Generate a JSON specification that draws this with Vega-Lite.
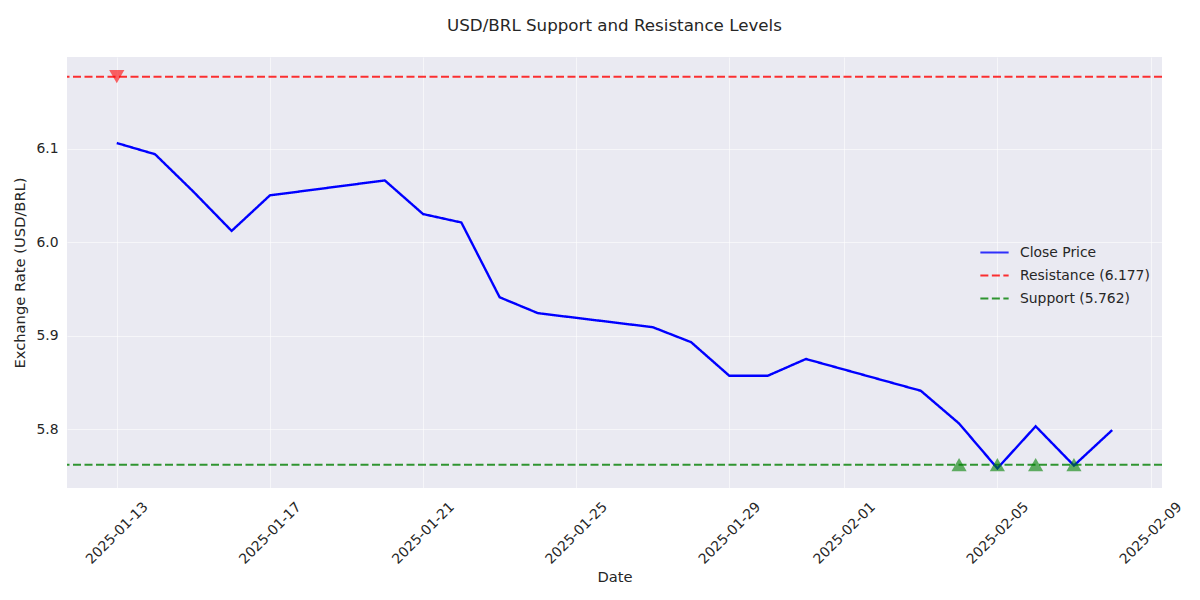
{
  "$schema": "https://vega.github.io/schema/vega-lite/v6.json",
  "width": 1095,
  "height": 431,
  "autosize": "none",
  "padding": {"left": 67, "top": 57, "right": 38, "bottom": 112},
  "background": "white",
  "title": {"text": "USD/BRL Support and Resistance Levels", "font": "DejaVu Sans", "fontSize": 16.7, "fontWeight": "normal", "color": "#262626", "offset": 22, "anchor": "middle"},
  "config": {
    "view": {"fill": "#EAEAF2", "stroke": null},
    "axis": {"grid": true, "gridColor": "#FFFFFF", "gridWidth": 1, "gridOpacity": 0.55, "domain": false, "ticks": false, "labelFont": "DejaVu Sans", "labelFontSize": 13.9, "labelColor": "#262626", "titleFont": "DejaVu Sans", "titleFontSize": 14.7, "titleFontWeight": "normal", "titleColor": "#262626"},
    "legend": {"labelFont": "DejaVu Sans", "labelFontSize": 13.9, "labelColor": "#262626"}
  },
  "datasets": {
    "prices": [
      {"date": "2025-01-13", "value": 6.106, "series": "Close Price"},
      {"date": "2025-01-14", "value": 6.094, "series": "Close Price"},
      {"date": "2025-01-15", "value": 6.054, "series": "Close Price"},
      {"date": "2025-01-16", "value": 6.012, "series": "Close Price"},
      {"date": "2025-01-17", "value": 6.050, "series": "Close Price"},
      {"date": "2025-01-20", "value": 6.066, "series": "Close Price"},
      {"date": "2025-01-21", "value": 6.030, "series": "Close Price"},
      {"date": "2025-01-22", "value": 6.021, "series": "Close Price"},
      {"date": "2025-01-23", "value": 5.941, "series": "Close Price"},
      {"date": "2025-01-24", "value": 5.924, "series": "Close Price"},
      {"date": "2025-01-27", "value": 5.909, "series": "Close Price"},
      {"date": "2025-01-28", "value": 5.893, "series": "Close Price"},
      {"date": "2025-01-29", "value": 5.857, "series": "Close Price"},
      {"date": "2025-01-30", "value": 5.857, "series": "Close Price"},
      {"date": "2025-01-31", "value": 5.875, "series": "Close Price"},
      {"date": "2025-02-03", "value": 5.841, "series": "Close Price"},
      {"date": "2025-02-04", "value": 5.806, "series": "Close Price"},
      {"date": "2025-02-05", "value": 5.758, "series": "Close Price"},
      {"date": "2025-02-06", "value": 5.803, "series": "Close Price"},
      {"date": "2025-02-07", "value": 5.761, "series": "Close Price"},
      {"date": "2025-02-08", "value": 5.799, "series": "Close Price"}
    ],
    "levels": [
      {"level": 6.177, "series": "Resistance (6.177)"},
      {"level": 5.762, "series": "Support (5.762)"}
    ],
    "resMarks": [
      {"date": "2025-01-13", "value": 6.177}
    ],
    "supMarks": [
      {"date": "2025-02-04", "value": 5.762},
      {"date": "2025-02-05", "value": 5.762},
      {"date": "2025-02-06", "value": 5.762},
      {"date": "2025-02-07", "value": 5.762}
    ]
  },
  "encoding": {
    "x": {
      "field": "date", "type": "temporal", "title": "Date",
      "scale": {"type": "utc", "domain": [{"year": 2025, "month": "jan", "date": 11, "hours": 16, "minutes": 48, "utc": true}, {"year": 2025, "month": "feb", "date": 9, "hours": 7, "minutes": 12, "utc": true}]},
      "axis": {
        "values": [
          {"year": 2025, "month": "jan", "date": 13, "utc": true},
          {"year": 2025, "month": "jan", "date": 17, "utc": true},
          {"year": 2025, "month": "jan", "date": 21, "utc": true},
          {"year": 2025, "month": "jan", "date": 25, "utc": true},
          {"year": 2025, "month": "jan", "date": 29, "utc": true},
          {"year": 2025, "month": "feb", "date": 1, "utc": true},
          {"year": 2025, "month": "feb", "date": 5, "utc": true},
          {"year": 2025, "month": "feb", "date": 9, "utc": true}
        ],
        "format": "%Y-%m-%d", "labelAngle": -45, "labelAlign": "center", "labelBaseline": "middle", "labelPadding": 45, "titlePadding": 3
      }
    },
    "y": {
      "field": "value", "type": "quantitative", "title": "Exchange Rate (USD/BRL)",
      "scale": {"domain": [5.737, 6.198], "nice": false, "zero": false},
      "axis": {"values": [5.8, 5.9, 6.0, 6.1], "format": ".1f", "labelPadding": 9, "titlePadding": 8}
    }
  },
  "layer": [
    {
      "data": {"name": "levels"},
      "mark": {"type": "rule", "strokeWidth": 2, "opacity": 0.8},
      "encoding": {
        "x": null,
        "y": {"field": "level", "type": "quantitative"},
        "color": {"field": "series", "type": "nominal", "title": null,
          "scale": {"domain": ["Close Price", "Resistance (6.177)", "Support (5.762)"], "range": ["#0000FF", "#FF0000", "#008000"]},
          "legend": {"orient": "none", "legendX": 912, "legendY": 180, "symbolType": "stroke", "symbolSize": 800, "symbolStrokeWidth": 2.2, "rowPadding": -3, "labelOffset": 10}},
        "strokeDash": {"field": "series", "type": "nominal", "title": null,
          "scale": {"domain": ["Close Price", "Resistance (6.177)", "Support (5.762)"], "range": [[1, 0], [8, 3.5], [8, 3.5]]}}
      }
    },
    {
      "data": {"name": "prices"},
      "mark": {"type": "line", "strokeWidth": 2.4},
      "encoding": {
        "color": {"field": "series", "type": "nominal"},
        "strokeDash": {"field": "series", "type": "nominal"}
      }
    },
    {
      "data": {"name": "resMarks"},
      "mark": {"type": "point", "shape": "triangle-down", "filled": true, "size": 230, "color": "#FF0000", "opacity": 0.6, "strokeWidth": 0}
    },
    {
      "data": {"name": "supMarks"},
      "mark": {"type": "point", "shape": "triangle-up", "filled": true, "size": 230, "color": "#008000", "opacity": 0.6, "strokeWidth": 0}
    }
  ]
}
